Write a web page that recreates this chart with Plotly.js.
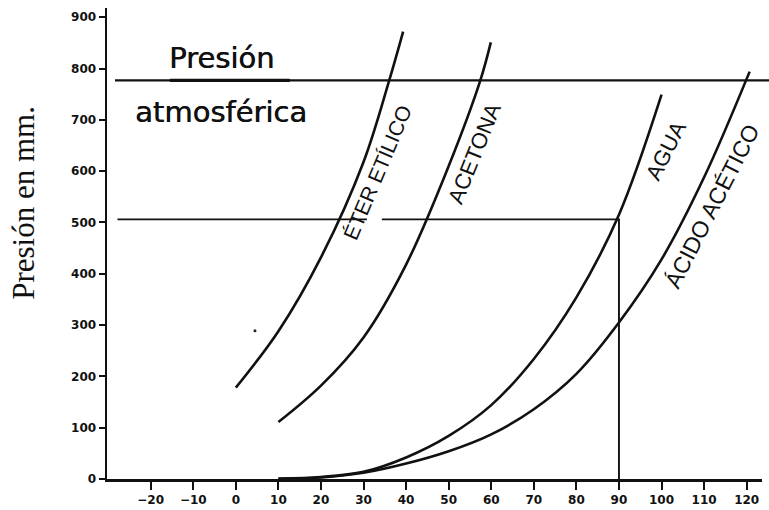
<!DOCTYPE html>
<html>
<head>
<meta charset="utf-8">
<script src="https://cdn.plot.ly/plotly-3.0.1.min.js"></script>
<style>html,body{margin:0;padding:0;background:#fff;}#chart{width:769px;height:510px;}</style>
</head>
<body>
<div id="chart"></div>
<script>
// Temperatura (°C) y presión de vapor (mm Hg)
const eterX = [0, 10, 20, 30, 36, 39.3];
const eterY = [178, 288, 432, 618, 776, 872];
const acetonaX = [10, 20, 30, 40, 50, 57.4, 59.9];
const acetonaY = [111, 182, 276, 418, 610, 776, 851];
const aguaX = [10, 20, 30, 40, 50, 60, 70, 80, 90, 100];
const aguaY = [1, 4, 14, 42, 84, 144, 234, 354, 515, 749];
const acidoX = [10, 20, 30, 40, 50, 60, 70, 80, 90, 100, 110, 120.7];
const acidoY = [0, 3, 12, 30, 54, 87, 136, 205, 305, 428, 588, 794];
const strayX = [4.5];
const strayY = [289];

const xTicks = [-20, -10, 0, 10, 20, 30, 40, 50, 60, 70, 80, 90, 100, 110, 120];
const yTicks = [0, 100, 200, 300, 400, 500, 600, 700, 800, 900];

const presionAtm = 777;      // línea de presión atmosférica
const presion500 = 506;      // línea horizontal de referencia
const tAgua500 = 90;         // temperatura del agua a esa presión
const refLineX = [-27.8, 30.8, null, 34.3, tAgua500, tAgua500];
const refLineY = [presion500, presion500, null, presion500, presion500, 0];

const labels = [
  {text: 'ÉTER ETÍLICO', x: 33.3, y: 597, angle: -67, size: 21},
  {text: 'ACETONA', x: 56.0, y: 635, angle: -68, size: 22},
  {text: 'AGUA', x: 101, y: 641, angle: -63, size: 22},
  {text: 'ÁCIDO ACÉTICO', x: 111.9, y: 532, angle: -63, size: 23}
];

const xRange = [-30.26, 123.6];
const yRange = [0, 918];

const curve = (x, y, name) => ({
  x: x, y: y, name: name, type: 'scatter', mode: 'lines',
  line: {color: '#111', width: 2.6, shape: 'spline', smoothing: 1},
  hoverinfo: 'skip'
});

const data = [
  curve(eterX, eterY, 'Éter etílico'),
  curve(acetonaX, acetonaY, 'Acetona'),
  curve(aguaX, aguaY, 'Agua'),
  curve(acidoX, acidoY, 'Ácido acético'),
  {x: refLineX, y: refLineY, type: 'scatter', mode: 'lines',
   line: {color: '#111', width: 1.9}, hoverinfo: 'skip', connectgaps: false},
  {x: strayX, y: strayY, type: 'scatter', mode: 'markers',
   marker: {color: '#222', size: 3}, hoverinfo: 'skip'}
];

const yPaper = v => (v - yRange[0]) / (yRange[1] - yRange[0]);
const xPaper = v => (v - xRange[0]) / (xRange[1] - xRange[0]);

const layout = {
  width: 769, height: 510,
  margin: {l: 107, r: 7, t: 8, b: 31, pad: 0},
  paper_bgcolor: '#fff', plot_bgcolor: '#fff',
  showlegend: false,
  font: {family: 'DejaVu Sans', color: '#111'},
  xaxis: {
    range: xRange, showgrid: false, zeroline: false,
    showline: true, linecolor: '#111', linewidth: 2.5,
    ticks: 'outside', ticklen: 8, tickwidth: 2, tickcolor: '#111',
    tickvals: xTicks, ticktext: xTicks.map(v => v < 0 ? '\u2212' + Math.abs(v) : String(v)),
    tickfont: {family: 'DejaVu Sans', size: 12, weight: 'bold', color: '#111'}
  },
  yaxis: {
    range: yRange, showgrid: false, zeroline: false,
    showline: true, linecolor: '#111', linewidth: 2.5,
    ticks: 'outside', ticklen: 6, tickwidth: 2, tickcolor: '#111',
    tickvals: yTicks, ticktext: yTicks.map(String),
    tickfont: {family: 'DejaVu Sans', size: 12, weight: 'bold', color: '#111'}
  },
  shapes: [
    {type: 'line', xref: 'paper', yref: 'paper',
     x0: 0.0122, x1: 1.012, y0: yPaper(presionAtm), y1: yPaper(presionAtm),
     line: {color: '#111', width: 2.2}},
    {type: 'line', xref: 'paper', yref: 'paper',
     x0: 0.096, x1: 0.279, y0: yPaper(presionAtm), y1: yPaper(presionAtm),
     line: {color: '#111', width: 3.4}}
  ],
  annotations: [
    {text: 'Presión', xref: 'paper', yref: 'paper', x: 0.092, y: 0.894,
     xanchor: 'left', yanchor: 'middle', showarrow: false,
     font: {family: 'DejaVu Sans', size: 29, color: '#111', shadow: '0.6px 0 0 #111'}},
    {text: 'atmosférica', xref: 'paper', yref: 'paper', x: 0.039, y: 0.779,
     xanchor: 'left', yanchor: 'middle', showarrow: false,
     font: {family: 'DejaVu Sans', size: 29, color: '#111', shadow: '0.6px 0 0 #111'}},
    {text: 'Presión en mm.', xref: 'paper', yref: 'paper', x: -0.127, y: 0.586,
     xanchor: 'center', yanchor: 'middle', textangle: -90, showarrow: false,
     font: {family: 'Liberation Serif', size: 31, color: '#111'}}
  ].concat(labels.map(l => ({
     text: l.text, x: l.x, y: l.y, xref: 'x', yref: 'y', textangle: l.angle,
     showarrow: false, xanchor: 'center', yanchor: 'middle',
     font: {family: 'Liberation Sans', size: l.size, color: '#111'}
  })))
};

Plotly.newPlot('chart', data, layout, {staticPlot: true, displayModeBar: false});
</script>
</body>
</html>
